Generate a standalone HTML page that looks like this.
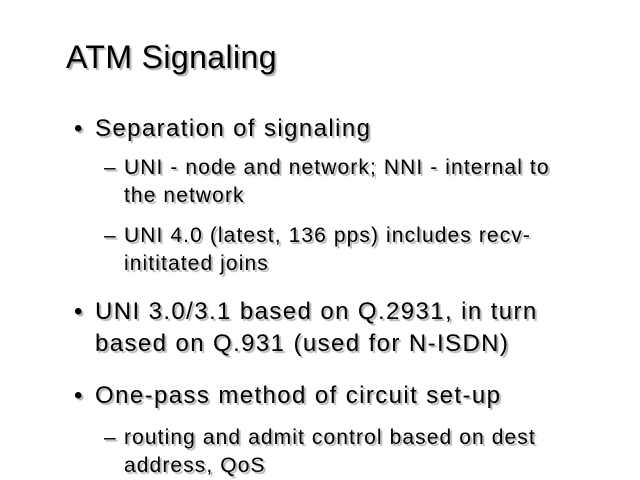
<!DOCTYPE html>
<html><head><style>
body{margin:0;width:640px;height:480px;background:#fff;position:relative;overflow:hidden;font-family:"Liberation Sans",sans-serif;color:#000}
div{position:absolute;white-space:nowrap;line-height:1;text-shadow:2px 2px 1px #b0b0b0}
.t{font-size:32px;left:66px;top:41px;letter-spacing:0.4px}
.b{font-size:24px;letter-spacing:1.4px}
.s{font-size:21px;letter-spacing:1.1px}
</style></head><body>
<div class="t">ATM Signaling</div>
<div class="b" style="left:74px;top:117px">•</div>
<div class="b" style="left:95px;top:117px">Separation of signaling</div>
<div class="s" style="left:104px;top:157px">–</div>
<div class="s" style="left:124px;top:157px">UNI - node and network; NNI - internal to</div>
<div class="s" style="left:124px;top:185px">the network</div>
<div class="s" style="left:104px;top:225px">–</div>
<div class="s" style="left:124px;top:225px">UNI 4.0 (latest, 136 pps) includes recv-</div>
<div class="s" style="left:124px;top:253px">inititated joins</div>
<div class="b" style="left:74px;top:300px">•</div>
<div class="b" style="left:95px;top:300px">UNI 3.0/3.1 based on Q.2931, in turn</div>
<div class="b" style="left:95px;top:332px">based on Q.931 (used for N-ISDN)</div>
<div class="b" style="left:74px;top:384px">•</div>
<div class="b" style="left:95px;top:384px">One-pass method of circuit set-up</div>
<div class="s" style="left:104px;top:427px">–</div>
<div class="s" style="left:124px;top:427px">routing and admit control based on dest</div>
<div class="s" style="left:124px;top:455px">address, QoS</div>
</body></html>
